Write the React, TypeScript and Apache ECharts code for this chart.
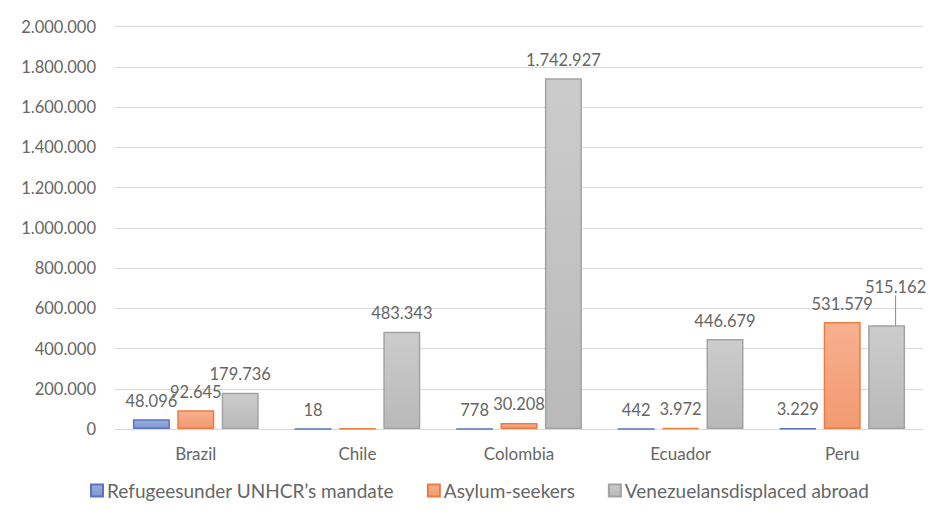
import React, { useEffect, useRef } from "react";
import * as echarts from "echarts";

const categories = ["Brazil", "Chile", "Colombia", "Ecuador", "Peru"];
const refugees = [48096, 18, 778, 442, 3229];
const asylumSeekers = [92645, 1500, 30208, 3972, 531579];
const venezuelans = [179736, 483343, 1742927, 446679, 515162];
const seriesNames = [
  "Refugeesunder UNHCR\u2019s mandate",
  "Asylum-seekers",
  "Venezuelansdisplaced abroad",
];
const hiddenLabels: Record<string, number[]> = { "Asylum-seekers": [1] };

const fmt = (v: number) =>
  String(Math.round(v)).replace(/\B(?=(\d{3})+(?!\d))/g, ".");

const FONT = "Lato";
const TXT = "#666666";

export default function App() {
  const ref = useRef<HTMLDivElement>(null);
  useEffect(() => {
    if (!ref.current) return;
    const chart = echarts.init(ref.current, undefined, { renderer: "svg" });
    const grad = (a: string, b: string) =>
      new echarts.graphic.LinearGradient(0, 0, 0, 1, [
        { offset: 0, color: a },
        { offset: 1, color: b },
      ]);
    const styles = [
      { fill: grad("#9aaee0", "#7f95cf"), border: "#5a74bf" },
      { fill: grad("#f7b08f", "#f29a70"), border: "#ec7c42" },
      { fill: grad("#cccccc", "#b9b9b9"), border: "#a3a3a3" },
    ];
    const datas = [refugees, asylumSeekers, venezuelans];
    const series = seriesNames.map((name, i) => ({
      name,
      type: "bar",
      barWidth: 37,
      barGap: "20%",
      itemStyle: { color: styles[i].fill, borderColor: styles[i].border, borderWidth: 1.5 },
      label: {
        show: true,
        position: "top",
        distance: 10,
        color: TXT,
        fontFamily: FONT,
        fontSize: 16.5,
        formatter: (p: any) => fmt(p.value),
      },
      labelLine: { show: true, lineStyle: { color: "#8c8c8c", width: 1 } },
      labelLayout:
        i === 2
          ? (p: any) => (p.dataIndex === 4 ? { dx: 9, dy: -20 } : {})
          : undefined,
      data: datas[i].map((v, j) =>
        (hiddenLabels[name] || []).includes(j)
          ? { value: v, label: { show: false } }
          : i === 2 && j === 4
          ? { value: v, labelLine: { show: true } }
          : { value: v, labelLine: { show: false } }
      ),
    }));
    chart.setOption({
      animation: false,
      backgroundColor: "#ffffff",
      grid: { left: 115, right: 22, top: 26.5, bottom: 100 },
      legend: {
        top: 476,
        left: 85,
        itemWidth: 12,
        itemHeight: 12,
        itemGap: 33,
        icon: "rect",
        textStyle: { color: TXT, fontFamily: FONT, fontSize: 19, padding: [0, 0, 0, -1] },
        data: seriesNames,
      },
      xAxis: {
        type: "category",
        data: categories,
        axisTick: { show: false },
        axisLine: { lineStyle: { color: "#d9d9d9", width: 1 } },
        axisLabel: { color: TXT, fontFamily: FONT, fontSize: 17, margin: 16 },
      },
      yAxis: {
        type: "value",
        min: 0,
        max: 2000000,
        interval: 200000,
        axisLine: { show: false },
        axisTick: { show: false },
        splitLine: { lineStyle: { color: "#d9d9d9", width: 1 } },
        axisLabel: {
          color: TXT,
          fontFamily: FONT,
          fontSize: 16.5,
          margin: 19,
          formatter: (v: number) => fmt(v),
        },
      },
      series,
    });
    return () => chart.dispose();
  }, []);
  return (
    <div style={{ position: "relative", width: 945, height: 529, margin: -8 }}>
      <div ref={ref} style={{ position: "absolute", left: 0, top: 0, width: 945, height: 529 }} />
      <div
        style={{
          position: "absolute",
          left: 6,
          top: 4,
          width: 932,
          height: 521,
          border: "1px solid #cfcfcf",
          pointerEvents: "none",
        }}
      />
    </div>
  );
}
